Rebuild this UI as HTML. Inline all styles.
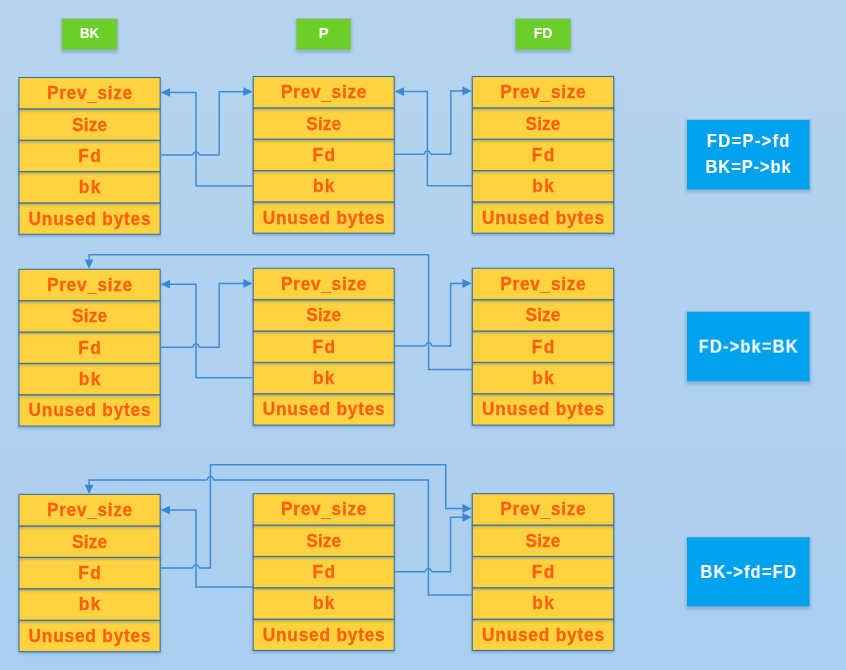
<!DOCTYPE html>
<html><head><meta charset="utf-8"><style>
html,body{margin:0;padding:0;width:846px;height:670px;overflow:hidden;background:linear-gradient(to bottom,#B5D4EF,#AACEF0);}
svg{position:absolute;left:0;top:0;display:block;will-change:transform}
.ct{font-family:"Liberation Sans",sans-serif;font-weight:bold;font-size:18.8px;fill:#FF6010;stroke:#FF6010;stroke-width:0.3px;text-anchor:middle}
.gt{font-family:"Liberation Sans",sans-serif;font-weight:bold;font-size:14px;fill:#fff;stroke:#fff;stroke-width:0.1px;text-anchor:middle}
.bt{font-family:"Liberation Sans",sans-serif;font-weight:bold;font-size:17.5px;fill:#fff;stroke:#fff;stroke-width:0.1px;text-anchor:middle}
</style></head><body>
<svg width="846" height="670" viewBox="0 0 846 670">
<defs>
<filter id="sh" x="-10%" y="-20%" width="130%" height="160%"><feDropShadow dx="0" dy="1.6" stdDeviation="1.3" flood-color="#1E64A8" flood-opacity="0.35"/></filter>
<filter id="sh2" x="-10%" y="-20%" width="130%" height="160%"><feDropShadow dx="0" dy="1.8" stdDeviation="1.4" flood-color="#1E64A8" flood-opacity="0.35"/></filter>
</defs>
<rect x="61.40" y="18.3" width="56.40" height="32.1" fill="#A8B4BC" filter="url(#sh2)"/>
<rect x="62.1" y="19" width="55.00" height="30.7" fill="#6CCE28"/>
<text x="89.60" y="38.4" class="gt" textLength="19.2" lengthAdjust="spacingAndGlyphs">BK</text>
<rect x="295.90" y="18.3" width="55.40" height="32.1" fill="#A8B4BC" filter="url(#sh2)"/>
<rect x="296.6" y="19" width="54.00" height="30.7" fill="#6CCE28"/>
<text x="323.60" y="38.4" class="gt" textLength="9.9" lengthAdjust="spacingAndGlyphs">P</text>
<rect x="515.10" y="18.3" width="56.10" height="32.1" fill="#A8B4BC" filter="url(#sh2)"/>
<rect x="515.8" y="19" width="54.70" height="30.7" fill="#6CCE28"/>
<text x="543.15" y="38.4" class="gt" textLength="18.7" lengthAdjust="spacingAndGlyphs">FD</text>
<rect x="19.00" y="202.90" width="141.20" height="31.35" fill="#FFD23F" stroke="#41719C" stroke-width="1.1" filter="url(#sh)"/>
<rect x="19.00" y="171.55" width="141.20" height="31.35" fill="#FFD23F" stroke="#41719C" stroke-width="1.1" filter="url(#sh)"/>
<rect x="19.00" y="140.20" width="141.20" height="31.35" fill="#FFD23F" stroke="#41719C" stroke-width="1.1" filter="url(#sh)"/>
<rect x="19.00" y="108.85" width="141.20" height="31.35" fill="#FFD23F" stroke="#41719C" stroke-width="1.1" filter="url(#sh)"/>
<rect x="19.00" y="77.50" width="141.20" height="31.35" fill="#FFD23F" stroke="#41719C" stroke-width="1.1" filter="url(#sh)"/>
<text transform="translate(89.60,99.20) scale(0.92,1)" x="0" y="0" class="ct" textLength="92.72" lengthAdjust="spacing">Prev<tspan dy="1.3">_</tspan><tspan dy="-1.3">size</tspan></text>
<text transform="translate(89.60,130.55) scale(0.92,1)" x="0" y="0" class="ct" textLength="38.04" lengthAdjust="spacing">Size</text>
<text transform="translate(89.60,161.90) scale(0.92,1)" x="0" y="0" class="ct" textLength="24.57" lengthAdjust="spacing">Fd</text>
<text transform="translate(89.60,193.25) scale(0.92,1)" x="0" y="0" class="ct" textLength="23.48" lengthAdjust="spacing">bk</text>
<text transform="translate(89.60,224.60) scale(0.92,1)" x="0" y="0" class="ct" textLength="132.61" lengthAdjust="spacing">Unused bytes</text>
<rect x="253.20" y="201.90" width="141.00" height="31.35" fill="#FFD23F" stroke="#41719C" stroke-width="1.1" filter="url(#sh)"/>
<rect x="253.20" y="170.55" width="141.00" height="31.35" fill="#FFD23F" stroke="#41719C" stroke-width="1.1" filter="url(#sh)"/>
<rect x="253.20" y="139.20" width="141.00" height="31.35" fill="#FFD23F" stroke="#41719C" stroke-width="1.1" filter="url(#sh)"/>
<rect x="253.20" y="107.85" width="141.00" height="31.35" fill="#FFD23F" stroke="#41719C" stroke-width="1.1" filter="url(#sh)"/>
<rect x="253.20" y="76.50" width="141.00" height="31.35" fill="#FFD23F" stroke="#41719C" stroke-width="1.1" filter="url(#sh)"/>
<text transform="translate(323.70,98.20) scale(0.92,1)" x="0" y="0" class="ct" textLength="92.72" lengthAdjust="spacing">Prev<tspan dy="1.3">_</tspan><tspan dy="-1.3">size</tspan></text>
<text transform="translate(323.70,129.55) scale(0.92,1)" x="0" y="0" class="ct" textLength="38.04" lengthAdjust="spacing">Size</text>
<text transform="translate(323.70,160.90) scale(0.92,1)" x="0" y="0" class="ct" textLength="24.57" lengthAdjust="spacing">Fd</text>
<text transform="translate(323.70,192.25) scale(0.92,1)" x="0" y="0" class="ct" textLength="23.48" lengthAdjust="spacing">bk</text>
<text transform="translate(323.70,223.60) scale(0.92,1)" x="0" y="0" class="ct" textLength="132.61" lengthAdjust="spacing">Unused bytes</text>
<rect x="472.30" y="201.90" width="141.40" height="31.35" fill="#FFD23F" stroke="#41719C" stroke-width="1.1" filter="url(#sh)"/>
<rect x="472.30" y="170.55" width="141.40" height="31.35" fill="#FFD23F" stroke="#41719C" stroke-width="1.1" filter="url(#sh)"/>
<rect x="472.30" y="139.20" width="141.40" height="31.35" fill="#FFD23F" stroke="#41719C" stroke-width="1.1" filter="url(#sh)"/>
<rect x="472.30" y="107.85" width="141.40" height="31.35" fill="#FFD23F" stroke="#41719C" stroke-width="1.1" filter="url(#sh)"/>
<rect x="472.30" y="76.50" width="141.40" height="31.35" fill="#FFD23F" stroke="#41719C" stroke-width="1.1" filter="url(#sh)"/>
<text transform="translate(543.00,98.20) scale(0.92,1)" x="0" y="0" class="ct" textLength="92.72" lengthAdjust="spacing">Prev<tspan dy="1.3">_</tspan><tspan dy="-1.3">size</tspan></text>
<text transform="translate(543.00,129.55) scale(0.92,1)" x="0" y="0" class="ct" textLength="38.04" lengthAdjust="spacing">Size</text>
<text transform="translate(543.00,160.90) scale(0.92,1)" x="0" y="0" class="ct" textLength="24.57" lengthAdjust="spacing">Fd</text>
<text transform="translate(543.00,192.25) scale(0.92,1)" x="0" y="0" class="ct" textLength="23.48" lengthAdjust="spacing">bk</text>
<text transform="translate(543.00,223.60) scale(0.92,1)" x="0" y="0" class="ct" textLength="132.61" lengthAdjust="spacing">Unused bytes</text>
<rect x="19.00" y="394.70" width="141.20" height="31.35" fill="#FFD23F" stroke="#41719C" stroke-width="1.1" filter="url(#sh)"/>
<rect x="19.00" y="363.35" width="141.20" height="31.35" fill="#FFD23F" stroke="#41719C" stroke-width="1.1" filter="url(#sh)"/>
<rect x="19.00" y="332.00" width="141.20" height="31.35" fill="#FFD23F" stroke="#41719C" stroke-width="1.1" filter="url(#sh)"/>
<rect x="19.00" y="300.65" width="141.20" height="31.35" fill="#FFD23F" stroke="#41719C" stroke-width="1.1" filter="url(#sh)"/>
<rect x="19.00" y="269.30" width="141.20" height="31.35" fill="#FFD23F" stroke="#41719C" stroke-width="1.1" filter="url(#sh)"/>
<text transform="translate(89.60,291.00) scale(0.92,1)" x="0" y="0" class="ct" textLength="92.72" lengthAdjust="spacing">Prev<tspan dy="1.3">_</tspan><tspan dy="-1.3">size</tspan></text>
<text transform="translate(89.60,322.35) scale(0.92,1)" x="0" y="0" class="ct" textLength="38.04" lengthAdjust="spacing">Size</text>
<text transform="translate(89.60,353.70) scale(0.92,1)" x="0" y="0" class="ct" textLength="24.57" lengthAdjust="spacing">Fd</text>
<text transform="translate(89.60,385.05) scale(0.92,1)" x="0" y="0" class="ct" textLength="23.48" lengthAdjust="spacing">bk</text>
<text transform="translate(89.60,416.40) scale(0.92,1)" x="0" y="0" class="ct" textLength="132.61" lengthAdjust="spacing">Unused bytes</text>
<rect x="253.20" y="393.70" width="141.00" height="31.35" fill="#FFD23F" stroke="#41719C" stroke-width="1.1" filter="url(#sh)"/>
<rect x="253.20" y="362.35" width="141.00" height="31.35" fill="#FFD23F" stroke="#41719C" stroke-width="1.1" filter="url(#sh)"/>
<rect x="253.20" y="331.00" width="141.00" height="31.35" fill="#FFD23F" stroke="#41719C" stroke-width="1.1" filter="url(#sh)"/>
<rect x="253.20" y="299.65" width="141.00" height="31.35" fill="#FFD23F" stroke="#41719C" stroke-width="1.1" filter="url(#sh)"/>
<rect x="253.20" y="268.30" width="141.00" height="31.35" fill="#FFD23F" stroke="#41719C" stroke-width="1.1" filter="url(#sh)"/>
<text transform="translate(323.70,290.00) scale(0.92,1)" x="0" y="0" class="ct" textLength="92.72" lengthAdjust="spacing">Prev<tspan dy="1.3">_</tspan><tspan dy="-1.3">size</tspan></text>
<text transform="translate(323.70,321.35) scale(0.92,1)" x="0" y="0" class="ct" textLength="38.04" lengthAdjust="spacing">Size</text>
<text transform="translate(323.70,352.70) scale(0.92,1)" x="0" y="0" class="ct" textLength="24.57" lengthAdjust="spacing">Fd</text>
<text transform="translate(323.70,384.05) scale(0.92,1)" x="0" y="0" class="ct" textLength="23.48" lengthAdjust="spacing">bk</text>
<text transform="translate(323.70,415.40) scale(0.92,1)" x="0" y="0" class="ct" textLength="132.61" lengthAdjust="spacing">Unused bytes</text>
<rect x="472.30" y="393.70" width="141.40" height="31.35" fill="#FFD23F" stroke="#41719C" stroke-width="1.1" filter="url(#sh)"/>
<rect x="472.30" y="362.35" width="141.40" height="31.35" fill="#FFD23F" stroke="#41719C" stroke-width="1.1" filter="url(#sh)"/>
<rect x="472.30" y="331.00" width="141.40" height="31.35" fill="#FFD23F" stroke="#41719C" stroke-width="1.1" filter="url(#sh)"/>
<rect x="472.30" y="299.65" width="141.40" height="31.35" fill="#FFD23F" stroke="#41719C" stroke-width="1.1" filter="url(#sh)"/>
<rect x="472.30" y="268.30" width="141.40" height="31.35" fill="#FFD23F" stroke="#41719C" stroke-width="1.1" filter="url(#sh)"/>
<text transform="translate(543.00,290.00) scale(0.92,1)" x="0" y="0" class="ct" textLength="92.72" lengthAdjust="spacing">Prev<tspan dy="1.3">_</tspan><tspan dy="-1.3">size</tspan></text>
<text transform="translate(543.00,321.35) scale(0.92,1)" x="0" y="0" class="ct" textLength="38.04" lengthAdjust="spacing">Size</text>
<text transform="translate(543.00,352.70) scale(0.92,1)" x="0" y="0" class="ct" textLength="24.57" lengthAdjust="spacing">Fd</text>
<text transform="translate(543.00,384.05) scale(0.92,1)" x="0" y="0" class="ct" textLength="23.48" lengthAdjust="spacing">bk</text>
<text transform="translate(543.00,415.40) scale(0.92,1)" x="0" y="0" class="ct" textLength="132.61" lengthAdjust="spacing">Unused bytes</text>
<rect x="19.00" y="620.20" width="141.20" height="31.45" fill="#FFD23F" stroke="#41719C" stroke-width="1.1" filter="url(#sh)"/>
<rect x="19.00" y="588.75" width="141.20" height="31.45" fill="#FFD23F" stroke="#41719C" stroke-width="1.1" filter="url(#sh)"/>
<rect x="19.00" y="557.30" width="141.20" height="31.45" fill="#FFD23F" stroke="#41719C" stroke-width="1.1" filter="url(#sh)"/>
<rect x="19.00" y="525.85" width="141.20" height="31.45" fill="#FFD23F" stroke="#41719C" stroke-width="1.1" filter="url(#sh)"/>
<rect x="19.00" y="494.40" width="141.20" height="31.45" fill="#FFD23F" stroke="#41719C" stroke-width="1.1" filter="url(#sh)"/>
<text transform="translate(89.60,516.10) scale(0.92,1)" x="0" y="0" class="ct" textLength="92.72" lengthAdjust="spacing">Prev<tspan dy="1.3">_</tspan><tspan dy="-1.3">size</tspan></text>
<text transform="translate(89.60,547.55) scale(0.92,1)" x="0" y="0" class="ct" textLength="38.04" lengthAdjust="spacing">Size</text>
<text transform="translate(89.60,579.00) scale(0.92,1)" x="0" y="0" class="ct" textLength="24.57" lengthAdjust="spacing">Fd</text>
<text transform="translate(89.60,610.45) scale(0.92,1)" x="0" y="0" class="ct" textLength="23.48" lengthAdjust="spacing">bk</text>
<text transform="translate(89.60,641.90) scale(0.92,1)" x="0" y="0" class="ct" textLength="132.61" lengthAdjust="spacing">Unused bytes</text>
<rect x="253.20" y="619.10" width="141.00" height="31.35" fill="#FFD23F" stroke="#41719C" stroke-width="1.1" filter="url(#sh)"/>
<rect x="253.20" y="587.75" width="141.00" height="31.35" fill="#FFD23F" stroke="#41719C" stroke-width="1.1" filter="url(#sh)"/>
<rect x="253.20" y="556.40" width="141.00" height="31.35" fill="#FFD23F" stroke="#41719C" stroke-width="1.1" filter="url(#sh)"/>
<rect x="253.20" y="525.05" width="141.00" height="31.35" fill="#FFD23F" stroke="#41719C" stroke-width="1.1" filter="url(#sh)"/>
<rect x="253.20" y="493.70" width="141.00" height="31.35" fill="#FFD23F" stroke="#41719C" stroke-width="1.1" filter="url(#sh)"/>
<text transform="translate(323.70,515.40) scale(0.92,1)" x="0" y="0" class="ct" textLength="92.72" lengthAdjust="spacing">Prev<tspan dy="1.3">_</tspan><tspan dy="-1.3">size</tspan></text>
<text transform="translate(323.70,546.75) scale(0.92,1)" x="0" y="0" class="ct" textLength="38.04" lengthAdjust="spacing">Size</text>
<text transform="translate(323.70,578.10) scale(0.92,1)" x="0" y="0" class="ct" textLength="24.57" lengthAdjust="spacing">Fd</text>
<text transform="translate(323.70,609.45) scale(0.92,1)" x="0" y="0" class="ct" textLength="23.48" lengthAdjust="spacing">bk</text>
<text transform="translate(323.70,640.80) scale(0.92,1)" x="0" y="0" class="ct" textLength="132.61" lengthAdjust="spacing">Unused bytes</text>
<rect x="472.30" y="619.10" width="141.40" height="31.35" fill="#FFD23F" stroke="#41719C" stroke-width="1.1" filter="url(#sh)"/>
<rect x="472.30" y="587.75" width="141.40" height="31.35" fill="#FFD23F" stroke="#41719C" stroke-width="1.1" filter="url(#sh)"/>
<rect x="472.30" y="556.40" width="141.40" height="31.35" fill="#FFD23F" stroke="#41719C" stroke-width="1.1" filter="url(#sh)"/>
<rect x="472.30" y="525.05" width="141.40" height="31.35" fill="#FFD23F" stroke="#41719C" stroke-width="1.1" filter="url(#sh)"/>
<rect x="472.30" y="493.70" width="141.40" height="31.35" fill="#FFD23F" stroke="#41719C" stroke-width="1.1" filter="url(#sh)"/>
<text transform="translate(543.00,515.40) scale(0.92,1)" x="0" y="0" class="ct" textLength="92.72" lengthAdjust="spacing">Prev<tspan dy="1.3">_</tspan><tspan dy="-1.3">size</tspan></text>
<text transform="translate(543.00,546.75) scale(0.92,1)" x="0" y="0" class="ct" textLength="38.04" lengthAdjust="spacing">Size</text>
<text transform="translate(543.00,578.10) scale(0.92,1)" x="0" y="0" class="ct" textLength="24.57" lengthAdjust="spacing">Fd</text>
<text transform="translate(543.00,609.45) scale(0.92,1)" x="0" y="0" class="ct" textLength="23.48" lengthAdjust="spacing">bk</text>
<text transform="translate(543.00,640.80) scale(0.92,1)" x="0" y="0" class="ct" textLength="132.61" lengthAdjust="spacing">Unused bytes</text>
<path d="M253.2,185.9 L196,185.9 L196,92.4 L168.2,92.4" fill="none" stroke="#3D8BD9" stroke-width="1.5" stroke-linejoin="miter"/>
<path d="M160.2,155.1 L192.20,155.10 C193.40,155.10 193.10,152.20 194.80,152.20 L197.20,152.20 C198.90,152.20 198.60,155.10 199.80,155.10 L219.2,155.1 L219.2,91.7 L245.2,91.7" fill="none" stroke="#3D8BD9" stroke-width="1.5" stroke-linejoin="miter"/>
<path d="M472.3,185.8 L427.4,185.8 L427.4,91.6 L402.2,91.6" fill="none" stroke="#3D8BD9" stroke-width="1.5" stroke-linejoin="miter"/>
<path d="M394.2,154.2 L423.60,154.20 C424.80,154.20 424.50,151.30 426.20,151.30 L428.60,151.30 C430.30,151.30 430.00,154.20 431.20,154.20 L450.8,154.2 L450.8,91.0 L464.3,91.0" fill="none" stroke="#3D8BD9" stroke-width="1.5" stroke-linejoin="miter"/>
<path d="M253.2,377.7 L196,377.7 L196,284.2 L168.2,284.2" fill="none" stroke="#3D8BD9" stroke-width="1.5" stroke-linejoin="miter"/>
<path d="M160.2,347.2 L192.20,347.20 C193.40,347.20 193.10,344.30 194.80,344.30 L197.20,344.30 C198.90,344.30 198.60,347.20 199.80,347.20 L219.2,347.2 L219.2,283.4 L245.2,283.4" fill="none" stroke="#3D8BD9" stroke-width="1.5" stroke-linejoin="miter"/>
<path d="M472.3,369.6 L428.6,369.6 L428.6,254.7 L89.1,254.7 L89.1,261" fill="none" stroke="#3D8BD9" stroke-width="1.5" stroke-linejoin="miter"/>
<path d="M394.2,346.0 L424.80,346.00 C426.00,346.00 425.70,343.10 427.40,343.10 L429.80,343.10 C431.50,343.10 431.20,346.00 432.40,346.00 L450.6,346.0 L450.6,283.5 L464.3,283.5" fill="none" stroke="#3D8BD9" stroke-width="1.5" stroke-linejoin="miter"/>
<path d="M160.2,568.1 L192.20,568.10 C193.40,568.10 193.10,565.20 194.80,565.20 L197.20,565.20 C198.90,565.20 198.60,568.10 199.80,568.10 L210.4,568.1 L210.4,464.8 L445.8,464.8 L445.8,508.5 L464.3,508.5" fill="none" stroke="#3D8BD9" stroke-width="1.5" stroke-linejoin="miter"/>
<path d="M472.3,595.0 L428.4,595.0 L428.4,479.9 L214.20,479.90 C213.00,479.90 213.30,477.00 211.60,477.00 L209.20,477.00 C207.50,477.00 207.80,479.90 206.60,479.90 L89.1,479.9 L89.1,487" fill="none" stroke="#3D8BD9" stroke-width="1.5" stroke-linejoin="miter"/>
<path d="M253.2,586.9 L196,586.9 L196,510.1 L168.2,510.1" fill="none" stroke="#3D8BD9" stroke-width="1.5" stroke-linejoin="miter"/>
<path d="M394.2,571.8 L424.60,571.80 C425.80,571.80 425.50,568.90 427.20,568.90 L429.60,568.90 C431.30,568.90 431.00,571.80 432.20,571.80 L450.6,571.8 L450.6,517.3 L464.3,517.3" fill="none" stroke="#3D8BD9" stroke-width="1.5" stroke-linejoin="miter"/>
<polygon points="160.60,92.40 170.00,88.00 170.00,96.80" fill="#3988D5"/>
<polygon points="252.80,91.70 243.40,87.30 243.40,96.10" fill="#3988D5"/>
<polygon points="394.60,91.60 404.00,87.20 404.00,96.00" fill="#3988D5"/>
<polygon points="471.90,91.00 462.50,86.60 462.50,95.40" fill="#3988D5"/>
<polygon points="160.60,284.20 170.00,279.80 170.00,288.60" fill="#3988D5"/>
<polygon points="252.80,283.40 243.40,279.00 243.40,287.80" fill="#3988D5"/>
<polygon points="89.10,268.80 84.70,259.40 93.50,259.40" fill="#3988D5"/>
<polygon points="471.90,283.50 462.50,279.10 462.50,287.90" fill="#3988D5"/>
<polygon points="471.90,508.50 462.50,504.10 462.50,512.90" fill="#3988D5"/>
<polygon points="89.10,494.20 84.70,484.80 93.50,484.80" fill="#3988D5"/>
<polygon points="160.60,510.10 170.00,505.70 170.00,514.50" fill="#3988D5"/>
<polygon points="471.90,517.30 462.50,512.90 462.50,521.70" fill="#3988D5"/>
<rect x="686.3" y="119.30" width="124.0" height="70.90" fill="#A8B4BC" filter="url(#sh2)"/>
<rect x="687" y="120.0" width="122.6" height="69.50" fill="#00A2EE"/>
<text transform="translate(748.1,147.3) scale(0.95,1)" x="0" y="0" class="bt" textLength="86.84" lengthAdjust="spacing">FD=P-&gt;fd</text>
<text transform="translate(748.1,172.9) scale(0.95,1)" x="0" y="0" class="bt" textLength="89.79" lengthAdjust="spacing">BK=P-&gt;bk</text>
<rect x="686.3" y="311.20" width="124.0" height="70.90" fill="#A8B4BC" filter="url(#sh2)"/>
<rect x="687" y="311.9" width="122.6" height="69.50" fill="#00A2EE"/>
<text transform="translate(748.1,352.6) scale(0.95,1)" x="0" y="0" class="bt" textLength="104.21" lengthAdjust="spacing">FD-&gt;bk=BK</text>
<rect x="686.3" y="536.70" width="124.0" height="70.40" fill="#A8B4BC" filter="url(#sh2)"/>
<rect x="687" y="537.4" width="122.6" height="69.00" fill="#00A2EE"/>
<text transform="translate(748.1,578.0) scale(0.95,1)" x="0" y="0" class="bt" textLength="100.53" lengthAdjust="spacing">BK-&gt;fd=FD</text>
</svg>
</body></html>
